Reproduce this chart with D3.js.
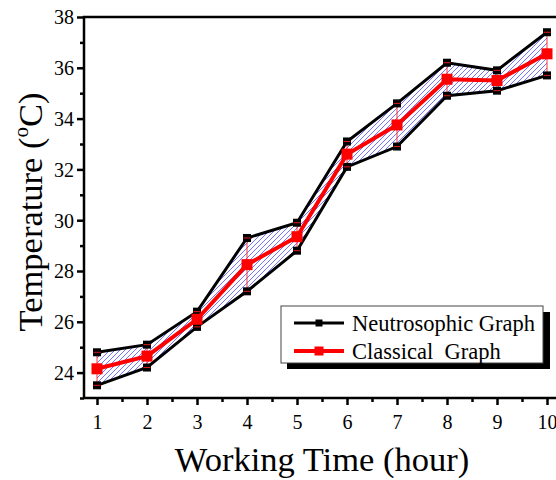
<!DOCTYPE html>
<html>
<head>
<meta charset="utf-8">
<script src="https://cdn.jsdelivr.net/npm/d3@7"></script>
<style>
  body { margin: 0; background: #fff; }
  svg text { font-family: "Liberation Serif", "Times New Roman", Times, "DejaVu Serif", serif !important; fill: #000; }
</style>
</head>
<body>
<main></main>
<script>
const hours = [1, 2, 3, 4, 5, 6, 7, 8, 9, 10];
const upper = [24.8, 25.1, 26.4, 29.3, 29.9, 33.1, 34.6, 36.2, 35.9, 37.4];
const lower = [23.5, 24.2, 25.8, 27.2, 28.8, 32.1, 32.9, 34.9, 35.1, 35.7];
const classical = [24.15, 24.65, 26.1, 28.25, 29.35, 32.6, 33.75, 35.55, 35.5, 36.55];
const yTicks = [24, 26, 28, 30, 32, 34, 36, 38];
const legendLabels = ['Neutrosophic Graph', 'Classical\u00a0 Graph'];

const W = 556, H = 480;
const plot = { left: 84, top: 17, bottom: 398, right: 560 };

const $svg = d3.select('main').append('svg').attr('width', W).attr('height', H);

const x = d3.scaleLinear().domain([0.74, 10.26]).range([plot.left, plot.right]);
const y = d3.scaleLinear().domain([23, 38]).range([plot.bottom, plot.top]);

// hatch pattern
const defs = $svg.append('defs');
const pat = defs.append('pattern')
  .attr('id', 'hatch')
  .attr('patternUnits', 'userSpaceOnUse')
  .attr('width', 5).attr('height', 5);
pat.append('path')
  .attr('d', 'M-1,1 L1,-1 M0,5 L5,0 M4,6 L6,4')
  .attr('stroke', '#5050ff').attr('stroke-width', 0.8);

const data = hours.map((h, i) => ({ h, up: upper[i], lo: lower[i], c: classical[i] }));

// band
const area = d3.area().x(d => x(d.h)).y0(d => y(d.lo)).y1(d => y(d.up));
$svg.append('path').datum(data).attr('d', area).attr('fill', 'url(#hatch)');

// error bars
const eb = $svg.append('g').attr('stroke', '#ff2020').attr('stroke-width', 0.9);
data.forEach(d => {
  eb.append('line').attr('x1', x(d.h)).attr('x2', x(d.h)).attr('y1', y(d.lo)).attr('y2', y(d.up));
});

// neutrosophic lines
const lineUp = d3.line().x(d => x(d.h)).y(d => y(d.up));
const lineLo = d3.line().x(d => x(d.h)).y(d => y(d.lo));
const lineC = d3.line().x(d => x(d.h)).y(d => y(d.c));

$svg.append('path').datum(data).attr('d', lineUp).attr('fill', 'none').attr('stroke', '#000').attr('stroke-width', 3);
$svg.append('path').datum(data).attr('d', lineLo).attr('fill', 'none').attr('stroke', '#000').attr('stroke-width', 3);

['up', 'lo'].forEach(k => {
  $svg.append('g').selectAll('rect').data(data).join('rect')
    .attr('x', d => x(d.h) - 4).attr('y', d => y(d[k]) - 4)
    .attr('width', 8).attr('height', 8).attr('fill', '#000');
});

// error caps on top of black markers
const eb2 = $svg.append('g').attr('stroke', '#ff2020').attr('stroke-width', 0.9);
data.forEach(d => {
  [d.lo, d.up].forEach(v => {
    eb2.append('line').attr('x1', x(d.h) - 3.5).attr('x2', x(d.h) + 3.5).attr('y1', y(v)).attr('y2', y(v));
  });
});

$svg.append('path').datum(data).attr('d', lineC).attr('fill', 'none').attr('stroke', '#ff0000').attr('stroke-width', 4);
$svg.append('g').selectAll('rect').data(data).join('rect')
  .attr('x', d => x(d.h) - 5.5).attr('y', d => y(d.c) - 5.5)
  .attr('width', 11).attr('height', 11).attr('fill', '#ff0000');

// axes
const axisX = d3.axisBottom(x).tickValues(hours).tickSize(7).tickFormat(d3.format('d'));
const axisXMinor = d3.axisBottom(x).tickValues(d3.range(1.5, 10.5, 1)).tickSize(4).tickFormat('');
const axisY = d3.axisLeft(y).tickValues(yTicks).tickSize(7);
const axisYMinor = d3.axisLeft(y).tickValues(d3.range(23, 38, 2)).tickSize(4).tickFormat('');

function styleAxis(g) {
  g.attr('font-family', null);
  g.select('.domain').remove();
  g.selectAll('line').attr('stroke', '#000').attr('stroke-width', 2.5);
  g.selectAll('text').attr('font-size', 20).attr('fill', '#000');
}

$svg.append('g').attr('transform', `translate(0,${plot.bottom})`).call(axisX).call(styleAxis)
  .selectAll('text').attr('dy', '1.05em');
$svg.append('g').attr('transform', `translate(0,${plot.bottom})`).call(axisXMinor).call(styleAxis);
$svg.append('g').attr('transform', `translate(${plot.left},0)`).call(axisY).call(styleAxis)
  .selectAll('text').attr('x', -10).attr('dy', '0.34em');
$svg.append('g').attr('transform', `translate(${plot.left},0)`).call(axisYMinor).call(styleAxis);

// frame
$svg.append('path')
  .attr('d', `M${plot.right},${plot.top} L${plot.left},${plot.top} L${plot.left},${plot.bottom} L${plot.right},${plot.bottom}`)
  .attr('fill', 'none').attr('stroke', '#000').attr('stroke-width', 2.5);

// titles
$svg.append('text').attr('x', 322).attr('y', 471).attr('text-anchor', 'middle')
  .attr('font-size', 34.5).text('Working Time (hour)');

const yt = $svg.append('text').attr('transform', 'translate(42,212) rotate(-90)')
  .attr('text-anchor', 'middle').attr('font-size', 34.5);
yt.append('tspan').text('Temperature (');
yt.append('tspan').attr('font-size', 21).attr('dy', -14).text('o');
yt.append('tspan').attr('dy', 14).text('C)');

// legend
const lg = $svg.append('g');
lg.append('rect').attr('x', 287).attr('y', 312).attr('width', 263).attr('height', 57).attr('fill', '#000');
lg.append('rect').attr('x', 281).attr('y', 306).attr('width', 262).attr('height', 57)
  .attr('fill', '#fff').attr('stroke', '#444').attr('stroke-width', 1);
const colors = ['#000', '#ff0000'];
legendLabels.forEach((t, i) => {
  const ly = 323 + i * 28;
  lg.append('line').attr('x1', 294).attr('x2', 344).attr('y1', ly).attr('y2', ly)
    .attr('stroke', colors[i]).attr('stroke-width', i ? 4 : 3);
  lg.append('rect').attr('x', 319 - (i ? 4.5 : 3.5)).attr('y', ly - (i ? 4.5 : 3.5))
    .attr('width', i ? 9 : 7).attr('height', i ? 9 : 7).attr('fill', colors[i]);
  lg.append('text').attr('x', 352).attr('y', ly + 7.5).attr('font-size', 22.5).text(t);
});
</script>
</body>
</html>
